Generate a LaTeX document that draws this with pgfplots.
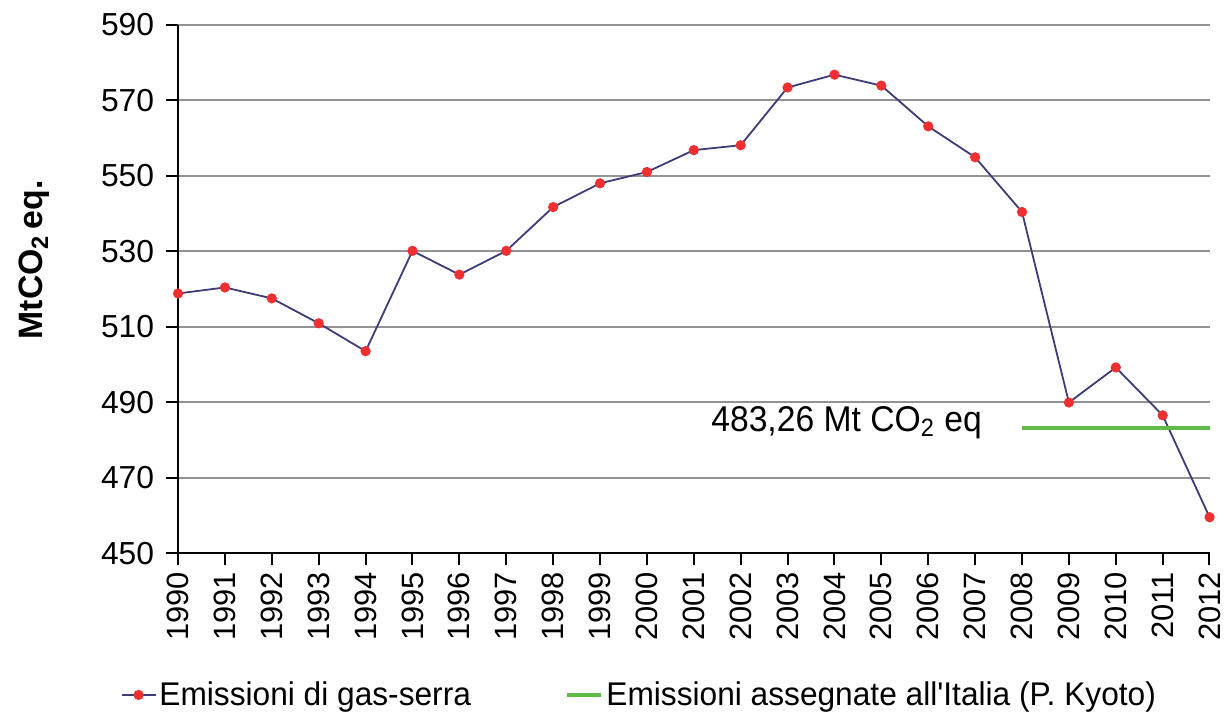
\documentclass[border=0pt]{standalone}
\usepackage{fontspec}
\setmainfont{Liberation Sans}
\newfontfamily\narrow[FakeStretch=0.965]{Liberation Sans}
\newfontfamily\narrowb[FakeStretch=0.94]{Liberation Sans}
\usepackage{pgfplots}
\pgfplotsset{compat=1.18}
\definecolor{navy}{HTML}{3C3C78}
\definecolor{reddot}{HTML}{F03030}
\definecolor{kgreen}{HTML}{5DBB46}
\begin{document}
\begin{tikzpicture}
\begin{axis}[
  scale only axis,
  width=518.5pt, height=265.5pt,
  xmin=1990, xmax=2012, ymin=450, ymax=590,
  xtick={1990,...,2012},
  ytick={450,470,...,590},
  /pgf/number format/assume math mode=true,
  /pgf/number format/1000 sep={},
  axis lines*=left,
  axis line style={line width=1.2pt, black},
  tick align=outside,
  major tick length=6pt,
  tick style={line width=1pt, black},
  ymajorgrids,
  grid style={line width=1pt, gray!85},
  yticklabel style={font=\fontsize{16}{18}\selectfont, xshift=-2.5pt},
  xticklabel style={font=\fontsize{15.5}{17}\selectfont, rotate=90, anchor=east},
  ylabel={\textbf{MtCO\textsubscript{2}\,eq.}},
  ylabel style={font=\fontsize{17}{20}\selectfont, at={(rel axis cs:-0.139,0.555)}, anchor=center},
  legend columns=2,
  legend style={draw=none, fill=none, font=\narrow\fontsize{16.5}{19}\selectfont,
    at={(rel axis cs:-0.056,-0.235)}, anchor=north west,
    /tikz/every even column/.append style={column sep=46pt},
    nodes={inner xsep=1.5pt},
    inner sep=0pt},
  legend cell align=left,
  clip=false,
]
\addplot[navy, line width=0.9pt, mark=*, mark size=2.1pt,
  mark options={fill=reddot, draw=reddot}] coordinates {
(1990,518.8) (1991,520.4) (1992,517.5) (1993,510.9) (1994,503.5)
(1995,530.1) (1996,523.8) (1997,530.1) (1998,541.7) (1999,548.0)
(2000,551.0) (2001,556.8) (2002,558.1) (2003,573.4) (2004,576.8)
(2005,573.9) (2006,563.1) (2007,554.9) (2008,540.4) (2009,489.9)
(2010,499.2) (2011,486.5) (2012,459.5)
};
\addlegendentry{Emissioni di gas-serra}
\addplot[kgreen, line width=2pt] coordinates {(2008,483.26) (2012,483.26)};
\addlegendentry{Emissioni assegnate all'Italia (P. Kyoto)}
\node[anchor=east, inner sep=0pt, font=\narrowb\fontsize{18}{20}\selectfont]
  at (axis cs:2007.15,484.6) {483,26 Mt CO\textsubscript{2} eq};
\path ([xshift=-89.5pt]rel axis cs:0,0.5) -- ([xshift=-88pt]rel axis cs:0,0.5);
\path ([yshift=12.5pt]rel axis cs:0.5,1) -- ([yshift=11pt]rel axis cs:0.5,1);
\end{axis}
\end{tikzpicture}
\end{document}
